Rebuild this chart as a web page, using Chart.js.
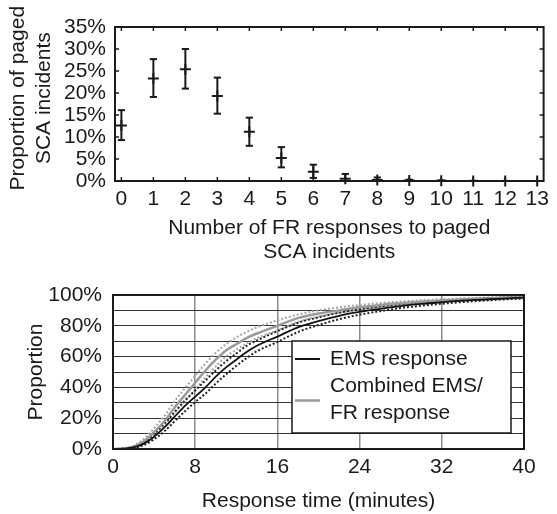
<!DOCTYPE html>
<html>
<head>
<meta charset="utf-8">
<script src="https://cdn.jsdelivr.net/npm/chart.js@4.4.1/dist/chart.umd.min.js"></script>
<style>
    body { margin: 0; background: #fff; }
    #top { position: absolute; left: 0; top: 0; }
    #bottom { position: absolute; left: 0; top: 265px; }
</style>
</head>
<body>
<canvas id="top" width="557" height="265"></canvas>
<canvas id="bottom" width="557" height="249"></canvas>
<script>
// top: FR responses per paged SCA incident (percent, with error bars)
var frCounts  = [0, 1, 2, 3, 4, 5, 6, 7, 8, 9, 10, 11, 12, 13];
var frPct     = [12.6, 23.3, 25.4, 19.3, 11.2, 5.2, 2.1, 0.5, 0.2, 0.1, 0.05, 0.02, 0.01, 0];
var frPctLow  = [9.3, 19.1, 21.0, 15.3, 8.0, 3.1, 0.7, 0, 0, 0, 0, 0, 0, 0];
var frPctHigh = [16.1, 27.7, 30.0, 23.5, 14.4, 7.7, 3.7, 1.6, 0.8, 0.3, 0.15, 0.05, 0.03, 0];

// bottom: cumulative response time curves (percent)
var minutes = [0, 1, 2, 3, 4, 5, 6, 7, 8, 9, 10, 11, 12, 13, 14, 16, 18, 20, 22, 24, 26, 28, 30, 32, 34, 36, 38, 40];
var ems     = [0, 0.2, 1, 3.5, 8, 14, 21, 28, 34, 40, 47, 53, 58, 63, 67, 73, 79, 83, 86.5, 89, 91, 92.8, 94.2, 95.3, 96.3, 97, 97.7, 98.3];
var emsHi   = [0, 0.3, 1.4, 4.5, 10, 16.5, 24, 31.5, 38, 44.5, 51, 57, 62, 67, 70.5, 76.5, 82, 85.5, 88.5, 90.7, 92.5, 94, 95.3, 96.3, 97.1, 97.8, 98.3, 98.8];
var emsLo   = [0, 0.1, 0.7, 2.6, 6.3, 11.5, 18, 24.5, 30.5, 36, 42.5, 48.5, 54, 59, 63.5, 69.5, 76, 80.5, 84.3, 87.2, 89.5, 91.5, 93, 94.3, 95.4, 96.3, 97.1, 97.7];
var comb    = [0, 0.3, 1.5, 5, 11, 18, 27, 35, 43, 51, 58, 64, 68, 72, 75, 80, 85, 88, 90, 92, 93.5, 94.7, 95.6, 96.4, 97, 97.6, 98.1, 98.5];
var combHi  = [0, 0.4, 2, 6.5, 13.5, 21.5, 31, 39.5, 47.5, 55.5, 62.5, 68, 72.5, 76, 79, 83.5, 87.3, 90, 92, 93.5, 94.8, 95.8, 96.6, 97.3, 97.8, 98.3, 98.7, 99];
var combLo  = [0, 0.2, 1.1, 3.8, 8.8, 15, 23.5, 31, 38.5, 46.5, 53.5, 60, 64.5, 68.5, 72, 77, 82.5, 86, 88.5, 90.5, 92.2, 93.6, 94.7, 95.6, 96.3, 97, 97.6, 98.1];
var legendLabels = [['EMS response'], ['Combined EMS/', 'FR response']];

Chart.defaults.font.family = "'Liberation Sans', Arial, sans-serif";
Chart.defaults.font.size = 21;
Chart.defaults.color = '#1a1a1a';
Chart.defaults.animation = false;
Chart.defaults.events = [];
Chart.defaults.plugins.legend.display = false;
Chart.defaults.plugins.tooltip.enabled = false;

function xy(xs, ys) {
    return xs.map(function (x, i) { return {x: x, y: ys[i]}; });
}

// box round the plot, optional inward tick marks
var framePlugin = {
    id: 'frame',
    afterDraw: function (chart, args, opts) {
        var ctx = chart.ctx, a = chart.chartArea;
        var sx = chart.scales.x, sy = chart.scales.y;
        ctx.save();
        ctx.strokeStyle = '#1a1a1a';
        if (opts.ticks) {
            ctx.lineWidth = 1.5;
            ctx.beginPath();
            sx.ticks.forEach(function (t) {
                var px = sx.getPixelForValue(t.value);
                ctx.moveTo(px, a.bottom); ctx.lineTo(px, a.bottom - 4);
                ctx.moveTo(px, a.top); ctx.lineTo(px, a.top + 4);
            });
            sy.ticks.forEach(function (t) {
                var py = sy.getPixelForValue(t.value);
                ctx.moveTo(a.left, py); ctx.lineTo(a.left + 4, py);
                ctx.moveTo(a.right, py); ctx.lineTo(a.right - 4, py);
            });
            ctx.stroke();
        }
        ctx.lineWidth = 2;
        ctx.strokeRect(a.left, a.top, a.right - a.left, a.bottom - a.top);
        ctx.restore();
    }
};

// boxed legend sitting inside the lower chart
var legendBox = {
    id: 'legendBox',
    afterDatasetsDraw: function (chart) {
        var ctx = chart.ctx, a = chart.chartArea;
        var l = a.left + 179, r = a.right - 13, t = a.top + 46, b = a.bottom - 16;
        ctx.save();
        ctx.fillStyle = '#fff';
        ctx.fillRect(l, t, r - l, b - t);
        ctx.strokeStyle = '#1a1a1a';
        ctx.lineWidth = 1.5;
        ctx.strokeRect(l, t, r - l, b - t);

        ctx.lineWidth = 2;
        ctx.strokeStyle = '#111';
        ctx.beginPath(); ctx.moveTo(l + 3, t + 18); ctx.lineTo(l + 28, t + 18); ctx.stroke();
        ctx.lineWidth = 2.5;
        ctx.strokeStyle = '#9a9a9a';
        ctx.beginPath(); ctx.moveTo(l + 3, t + 59.5); ctx.lineTo(l + 28, t + 59.5); ctx.stroke();

        ctx.font = "21px 'Liberation Sans', Arial, sans-serif";
        ctx.fillStyle = '#1a1a1a';
        ctx.textBaseline = 'middle';
        ctx.fillText(legendLabels[0][0], l + 38, t + 18);
        ctx.fillText(legendLabels[1][0], l + 38, t + 45);
        ctx.fillText(legendLabels[1][1], l + 38, t + 72);
        ctx.restore();
    }
};

// top chart
var errData = [];
frCounts.forEach(function (c, i) {
    errData.push({x: c, y: frPctLow[i]});
    errData.push({x: c, y: frPctHigh[i]});
    errData.push({x: c, y: null});
});

new Chart(document.getElementById('top'), {
    type: 'scatter',
    data: {
        datasets: [{
            data: xy(frCounts, frPct),
            pointStyle: 'cross',
            pointRadius: 5.5,
            pointBorderWidth: 2,
            borderColor: '#1a1a1a',
            clip: false
        }, {
            data: errData,
            showLine: true,
            spanGaps: false,
            borderColor: '#1a1a1a',
            borderWidth: 2,
            pointStyle: 'line',
            pointRadius: 3.6,
            pointBorderWidth: 2,
            pointBorderColor: '#1a1a1a',
            clip: false
        }]
    },
    options: {
        responsive: false,
        layout: {padding: {top: 27, right: 7, left: 0, bottom: 0}},
        scales: {
            x: {
                type: 'linear',
                min: -0.2,
                max: 13.2,
                afterFit: function (s) { s.height = 84; },
                afterBuildTicks: function (s) { s.ticks = frCounts.map(function (v) { return {value: v}; }); },
                grid: {display: false, drawTicks: false},
                border: {display: false},
                ticks: {autoSkip: false, maxRotation: 0, padding: 8, font: {lineHeight: 1}},
                title: {
                    display: true,
                    text: ['Number of FR responses to paged', 'SCA incidents'],
                    font: {size: 21, lineHeight: 1.15},
                    padding: {top: 0, bottom: 1}
                }
            },
            y: {
                min: 0,
                max: 35,
                afterFit: function (s) { s.width = 115; },
                grid: {display: false, drawTicks: false},
                border: {display: false},
                ticks: {stepSize: 5, autoSkip: false, padding: 9, font: {lineHeight: 1},
                        callback: function (v) { return v + '%'; }},
                title: {
                    display: true,
                    // leading spaces nudge the rotated title a little upward, as in the original
                    text: ['  Proportion of paged', '  SCA incidents'],
                    font: {size: 21, lineHeight: 1.25},
                    padding: {top: 5, bottom: 0}
                }
            }
        },
        plugins: {frame: {ticks: true}}
    },
    plugins: [framePlugin]
});

// bottom chart
new Chart(document.getElementById('bottom'), {
    type: 'line',
    data: {
        datasets: [{
            data: xy(minutes, ems),
            borderColor: '#111',
            borderWidth: 1.8
        }, {
            data: xy(minutes, comb),
            borderColor: '#9a9a9a',
            borderWidth: 2.5
        }, {
            data: xy(minutes, emsHi),
            borderColor: '#222',
            borderWidth: 2,
            borderDash: [2, 2]
        }, {
            data: xy(minutes, emsLo),
            borderColor: '#222',
            borderWidth: 2,
            borderDash: [2, 2]
        }, {
            data: xy(minutes, combHi),
            borderColor: '#a5a5a5',
            borderWidth: 2,
            borderDash: [2, 2]
        }, {
            data: xy(minutes, combLo),
            borderColor: '#a5a5a5',
            borderWidth: 2,
            borderDash: [2, 2]
        }]
    },
    options: {
        responsive: false,
        layout: {padding: {top: 30, right: 33, left: 0, bottom: 0}},
        elements: {
            point: {radius: 0},
            line: {cubicInterpolationMode: 'monotone'}
        },
        scales: {
            x: {
                type: 'linear',
                min: 0,
                max: 40,
                afterFit: function (s) { s.height = 65; },
                grid: {color: '#8a8a8a', lineWidth: 1.5, drawTicks: false},
                border: {display: false},
                ticks: {stepSize: 8, autoSkip: false, maxRotation: 0, padding: 8, font: {lineHeight: 1}},
                title: {
                    display: true,
                    text: 'Response time (minutes)',
                    font: {size: 21, lineHeight: 1.2},
                    padding: {top: 0, bottom: 0}
                }
            },
            y: {
                min: 0,
                max: 100,
                afterFit: function (s) { s.width = 113; },
                grid: {color: '#333', lineWidth: 1, drawTicks: false},
                border: {display: false},
                ticks: {stepSize: 10, autoSkip: false, padding: 11, font: {lineHeight: 1},
                        callback: function (v) { return v % 20 === 0 ? v + '%' : ''; }},
                title: {
                    display: true,
                    text: 'Proportion',
                    font: {size: 21, lineHeight: 1.2},
                    padding: {top: 24, bottom: 0}
                }
            }
        },
        plugins: {frame: {ticks: false}}
    },
    plugins: [framePlugin, legendBox]
});
</script>
</body>
</html>
